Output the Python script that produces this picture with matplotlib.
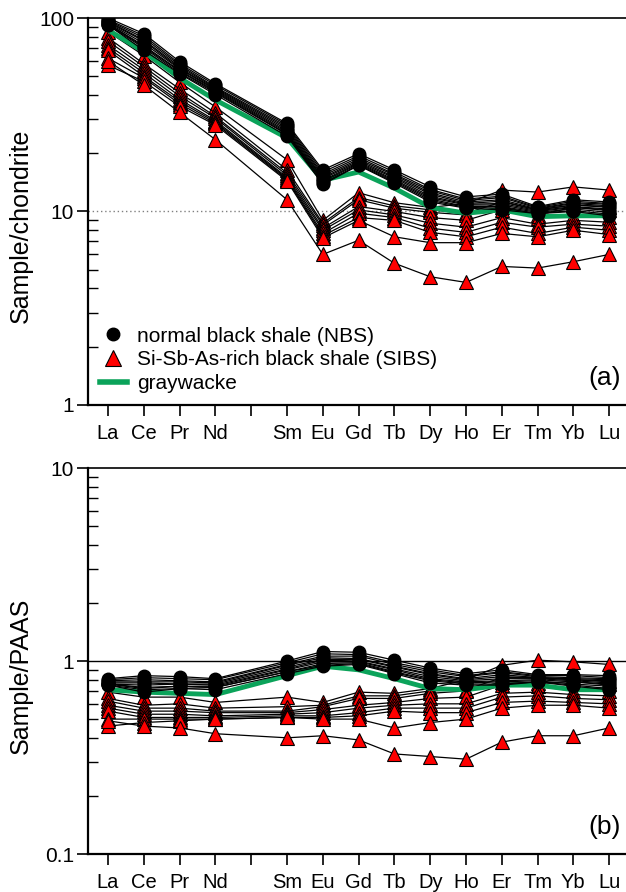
import matplotlib
matplotlib.use("Agg")
import matplotlib.pyplot as plt
from matplotlib.ticker import FixedLocator, LogLocator, NullFormatter
from matplotlib.lines import Line2D
import numpy as np

plt.rcParams['font.family'] = ['Liberation Sans', 'DejaVu Sans']

# REE order, Pm left out (empty slot on the axis)
elements = ["La", "Ce", "Pr", "Nd", "", "Sm", "Eu", "Gd", "Tb", "Dy", "Ho", "Er", "Tm", "Yb", "Lu"]
xpos = [0, 1, 2, 3, 5, 6, 7, 8, 9, 10, 11, 12, 13, 14]

# (a) chondrite-normalised
nbs_chon = [
    [100, 83, 59.5, 45.8, 28.5, 16.4, 19.9, 16.4, 13.4, 11.9, 12.3, 10.6, 11.5, 11.2],
    [98, 81, 58, 45, 28, 16.0, 19.4, 16.0, 13.0, 11.6, 12.0, 10.5, 11.3, 11.0],
    [97, 79, 57, 44, 27.5, 15.6, 19.0, 15.6, 12.8, 11.4, 11.8, 10.4, 11.1, 10.9],
    [96, 77, 56, 43.5, 27, 15.3, 18.6, 15.4, 12.5, 11.2, 11.5, 10.3, 11.0, 10.7],
    [95, 76, 55, 43, 26.5, 15.0, 18.3, 15.1, 12.3, 11.0, 11.3, 10.2, 10.8, 10.5],
    [94, 74, 54.5, 42.5, 26, 14.8, 18.0, 14.9, 12.0, 10.9, 11.0, 10.1, 10.6, 10.3],
    [93, 72, 53.5, 42, 25.6, 14.5, 17.8, 14.6, 11.8, 10.8, 10.8, 10.0, 10.5, 10.1],
    [93, 71, 53, 41.5, 25.2, 14.3, 17.6, 14.4, 11.6, 10.6, 10.6, 9.9, 10.3, 9.9],
    [92, 70, 52, 41, 25, 14.0, 17.4, 14.2, 11.4, 10.5, 10.4, 9.8, 10.1, 9.7],
    [92, 68, 51.5, 40.2, 24.5, 13.8, 17.3, 14.0, 11.2, 10.4, 10.2, 9.75, 10.0, 9.5],
]
sibs_chon = [
    [85, 64, 46.5, 34.7, 18.5, 9.0, 12.5, 11.1, 10.5, 11.0, 12.9, 12.6, 13.4, 12.9],
    [79, 58, 43, 32.3, 16.4, 8.7, 11.8, 10.7, 10.2, 9.8, 11.2, 10.2, 10.8, 10.6],
    [76, 56, 41, 31, 15.8, 8.5, 11.5, 10.4, 9.9, 9.6, 10.6, 9.6, 10.5, 10.2],
    [72.5, 54, 39.5, 30.4, 15.4, 8.2, 10.6, 10.0, 9.3, 9.0, 10.2, 9.3, 9.5, 9.4],
    [70, 52, 38, 29.5, 15.0, 8.0, 10.2, 9.6, 8.7, 8.3, 9.3, 8.6, 9.0, 8.8],
    [68, 50, 37, 29, 14.8, 7.7, 9.8, 9.3, 8.2, 7.8, 8.8, 8.3, 8.6, 8.4],
    [62, 49, 36, 28.5, 14.6, 7.5, 9.3, 9.0, 7.8, 7.4, 8.3, 7.7, 8.3, 8.0],
    [57, 47, 35, 28, 14.4, 7.3, 9.0, 7.4, 6.9, 6.9, 7.7, 7.4, 8.0, 7.6],
    [60, 45, 32.5, 23.5, 11.5, 6.0, 7.1, 5.4, 4.6, 4.3, 5.2, 5.1, 5.5, 6.0],
]
gw_chon = [86.7, 67, 49, 37.7, 24, 14.5, 16, 13.2, 10.5, 9.8, 10.2, 9.4, 9.5, 9.5]

# (b) PAAS-normalised
nbs_paas = [
    [0.81, 0.84, 0.83, 0.81, 1.00, 1.12, 1.11, 1.01, 0.92, 0.86, 0.90, 0.85, 0.85, 0.84],
    [0.80, 0.82, 0.81, 0.80, 0.98, 1.09, 1.08, 0.98, 0.90, 0.84, 0.88, 0.84, 0.84, 0.82],
    [0.79, 0.80, 0.79, 0.78, 0.96, 1.06, 1.06, 0.96, 0.88, 0.83, 0.87, 0.83, 0.82, 0.81],
    [0.78, 0.78, 0.78, 0.77, 0.95, 1.04, 1.03, 0.94, 0.86, 0.81, 0.85, 0.82, 0.81, 0.80],
    [0.77, 0.77, 0.76, 0.76, 0.93, 1.02, 1.02, 0.93, 0.85, 0.80, 0.83, 0.82, 0.80, 0.78],
    [0.76, 0.75, 0.76, 0.75, 0.91, 1.01, 1.00, 0.91, 0.83, 0.79, 0.81, 0.81, 0.79, 0.77],
    [0.76, 0.73, 0.74, 0.74, 0.90, 0.99, 0.99, 0.90, 0.81, 0.78, 0.79, 0.80, 0.78, 0.75],
    [0.76, 0.72, 0.74, 0.73, 0.88, 0.97, 0.98, 0.88, 0.80, 0.77, 0.78, 0.79, 0.76, 0.74],
    [0.75, 0.71, 0.72, 0.73, 0.88, 0.95, 0.97, 0.87, 0.79, 0.76, 0.76, 0.78, 0.75, 0.72],
    [0.75, 0.69, 0.72, 0.71, 0.86, 0.94, 0.96, 0.86, 0.77, 0.75, 0.75, 0.78, 0.74, 0.71],
]
sibs_paas = [
    [0.69, 0.65, 0.65, 0.61, 0.65, 0.61, 0.69, 0.68, 0.72, 0.80, 0.95, 1.01, 0.99, 0.96],
    [0.64, 0.59, 0.60, 0.57, 0.58, 0.59, 0.66, 0.66, 0.70, 0.71, 0.82, 0.82, 0.80, 0.79],
    [0.62, 0.57, 0.57, 0.55, 0.55, 0.58, 0.64, 0.64, 0.68, 0.70, 0.78, 0.77, 0.78, 0.76],
    [0.59, 0.55, 0.55, 0.54, 0.54, 0.56, 0.59, 0.61, 0.64, 0.65, 0.75, 0.74, 0.70, 0.70],
    [0.57, 0.53, 0.53, 0.52, 0.53, 0.54, 0.57, 0.59, 0.60, 0.60, 0.68, 0.69, 0.67, 0.66],
    [0.55, 0.51, 0.51, 0.51, 0.52, 0.52, 0.54, 0.57, 0.57, 0.57, 0.65, 0.66, 0.64, 0.63],
    [0.50, 0.50, 0.50, 0.50, 0.51, 0.51, 0.52, 0.55, 0.54, 0.54, 0.61, 0.62, 0.61, 0.60],
    [0.46, 0.48, 0.49, 0.50, 0.51, 0.50, 0.50, 0.45, 0.48, 0.50, 0.57, 0.59, 0.59, 0.57],
    [0.49, 0.46, 0.45, 0.42, 0.40, 0.41, 0.39, 0.33, 0.32, 0.31, 0.38, 0.41, 0.41, 0.45],
]
gw_paas = [0.71, 0.69, 0.68, 0.67, 0.84, 0.94, 0.90, 0.81, 0.72, 0.71, 0.75, 0.75, 0.71, 0.71]

green = "#0ba35a"


def draw_panel(ax, nbs, sibs, gw, ylim, gridval, grid_solid, tag):
    for s in sibs:
        ax.plot(xpos, s, color="black", lw=0.9, marker="^", ms=10.5,
                mfc="red", mec="black", mew=0.8, zorder=3)
    ax.plot(xpos, gw, color=green, lw=3.5, zorder=4, solid_joinstyle="round")
    for s in nbs:
        ax.plot(xpos, s, color="black", lw=0.9, marker="o", ms=9,
                mfc="black", mec="black", zorder=5)

    ax.set_yscale("log")
    ax.set_ylim(*ylim)
    ax.set_xlim(-0.56, 14.47)
    if grid_solid:
        ax.axhline(gridval, color="black", lw=1.0, zorder=1)
    else:
        ax.axhline(gridval, color="gray", lw=1.0, ls=(0, (1, 2)), zorder=1)

    ax.xaxis.set_major_locator(FixedLocator(range(15)))
    ax.set_xticklabels(elements, fontsize=14.5)
    ax.tick_params(axis="x", direction="out", length=8, width=1.2, pad=6)
    ax.yaxis.set_major_locator(LogLocator(base=10, numticks=10))
    ax.yaxis.set_minor_locator(LogLocator(base=10, subs=np.arange(2, 10), numticks=10))
    ax.yaxis.set_minor_formatter(NullFormatter())
    ax.yaxis.set_major_formatter(plt.FuncFormatter(lambda v, p: f"{v:g}"))
    ax.tick_params(axis="y", which="major", direction="out", length=8, width=1.2,
                   labelsize=15, pad=2)
    ax.tick_params(axis="y", which="minor", direction="in", length=7, width=1.0)

    ax.spines["right"].set_visible(False)
    ax.spines["left"].set_linewidth(1.6)
    ax.spines["bottom"].set_linewidth(1.6)
    ax.spines["top"].set_linewidth(1.2)
    ax.text(0.99, 0.07, tag, transform=ax.transAxes, ha="right", va="center", fontsize=19)


fig = plt.figure(figsize=(6.26, 8.92), dpi=100)
ax1 = fig.add_axes([0.1406, 0.5460, 0.8594, 0.4338])
ax2 = fig.add_axes([0.1406, 0.0426, 0.8594, 0.4327])

draw_panel(ax1, nbs_chon, sibs_chon, gw_chon, (1, 100), 10, False, "(a)")
draw_panel(ax2, nbs_paas, sibs_paas, gw_paas, (0.1, 10), 1, True, "(b)")

ax1.set_ylabel("Sample/chondrite", fontsize=18)
ax2.set_ylabel("Sample/PAAS", fontsize=18)
ax1.yaxis.set_label_coords(-0.102, 0.462)
ax2.yaxis.set_label_coords(-0.102, 0.461)

handles = [
    Line2D([], [], ls="none", marker="o", ms=9, mfc="black", mec="black"),
    Line2D([], [], ls="none", marker="^", ms=12, mfc="red", mec="black", mew=0.8),
    Line2D([], [], color=green, lw=4),
]
labels = ["normal black shale (NBS)", "Si-Sb-As-rich black shale (SIBS)", "graywacke"]
ax1.legend(handles, labels, loc="upper left", bbox_to_anchor=(-0.005, 0.24), frameon=False,
           fontsize=15, handlelength=1.3, handletextpad=0.5, labelspacing=0.22,
           borderaxespad=0.3)

fig.savefig("out.png", dpi=100)
